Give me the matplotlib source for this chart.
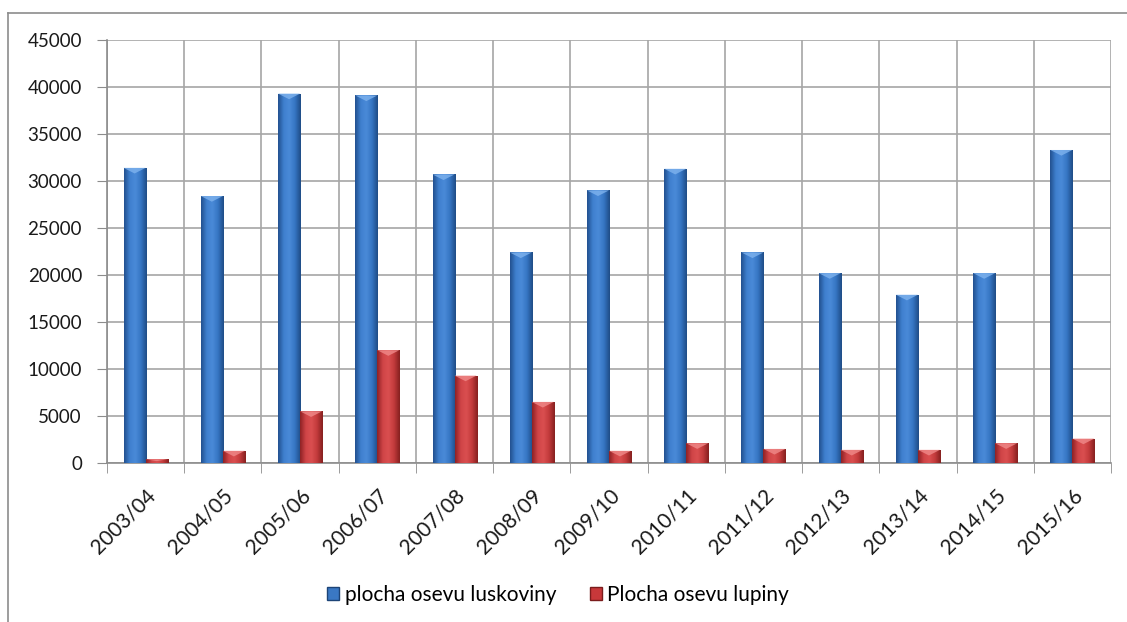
import matplotlib.pyplot as plt
import matplotlib.patches as mpatches
import numpy as np
from matplotlib.colors import LinearSegmentedColormap

seasons = ["2003/04", "2004/05", "2005/06", "2006/07", "2007/08", "2008/09", "2009/10",
           "2010/11", "2011/12", "2012/13", "2013/14", "2014/15", "2015/16"]
luskoviny = [31400, 28400, 39300, 39100, 30700, 22400, 29000, 31300, 22400, 20200, 17900, 20200, 33300]
lupiny = [400, 1300, 5500, 12000, 9300, 6500, 1300, 2100, 1500, 1400, 1400, 2100, 2600]
series_names = ["plocha osevu luskoviny", "Plocha osevu lupiny"]
yticks = list(range(0, 45001, 5000))

BLUE = "#3a78c4"
RED = "#c8383a"
plt.rcParams["font.family"] = ["Lato", "DejaVu Sans"]

blue_cmap = LinearSegmentedColormap.from_list("b", ["#22508f", "#3f80cf", "#4a8ad8", "#3575c2", "#1f4c86"])
red_cmap = LinearSegmentedColormap.from_list("r", ["#8e2224", "#d04447", "#da4f50", "#c23a3b", "#85201f"])

fig = plt.figure(figsize=(11.27, 6.22), dpi=100)
# outer chart frame
fig.add_artist(plt.Line2D([8 / 1127, 1.0], [1 - 13 / 622] * 2, color="#8c8c8c", lw=1.2))
fig.add_artist(plt.Line2D([8 / 1127] * 2, [0, 1 - 13 / 622], color="#8c8c8c", lw=1.2))

ax = fig.add_axes([107 / 1127, 1 - 463 / 622, 1004 / 1127, 423 / 622])
x = np.arange(len(seasons))
w = 0.285
b1 = ax.bar(x - w / 2, luskoviny, w, color=BLUE, zorder=3, edgecolor="#1d4477", lw=0.6)
b2 = ax.bar(x + w / 2, lupiny, w, color=RED, zorder=3, edgecolor="#7a1c1c", lw=0.6)

grad = np.linspace(0, 1, 64).reshape(1, -1)
for bars, cmap, top in ((b1, blue_cmap, "#7fb3ee"), (b2, red_cmap, "#f08a8a")):
    for r in bars:
        x0, y0, bw, bh = r.get_x(), r.get_y(), r.get_width(), r.get_height()
        im = ax.imshow(grad, cmap=cmap, aspect="auto", extent=(x0, x0 + bw, y0, y0 + bh),
                       zorder=3.5, interpolation="bicubic")
        im.set_clip_path(r)
        cap = min(600, bh * 0.5)
        tri = mpatches.Polygon([(x0, y0 + bh), (x0 + bw, y0 + bh), (x0 + bw / 2, y0 + bh - cap)],
                               closed=True, color=top, alpha=0.8, zorder=4, lw=0)
        ax.add_patch(tri)

ax.set_xlim(-0.5, len(seasons) - 0.5)
ax.set_ylim(0, 45000)
ax.set_yticks(yticks)
ax.set_yticklabels([str(v) for v in yticks], fontsize=13.5, color="#1a1a1a")
ax.set_xticks(x)
ax.set_xticklabels(seasons, rotation=45, ha="right", rotation_mode="anchor", fontsize=15, color="#1a1a1a")
ax.tick_params(axis="x", length=0, pad=16)
ax.tick_params(axis="y", length=7, color="#8c8c8c", pad=11)

ax.set_xticks(np.arange(-0.5, len(seasons)), minor=True)
ax.tick_params(axis="x", which="minor", length=7, color="#8c8c8c")
ax.grid(True, axis="y", color="#a6a6a6", lw=1.2, zorder=0)
ax.grid(True, axis="x", which="minor", color="#a6a6a6", lw=1.2, zorder=0)
ax.grid(False, axis="x", which="major")
for s in ["top", "right"]:
    ax.spines[s].set_visible(False)
ax.spines["left"].set_color("#8c8c8c")
ax.spines["bottom"].set_color("#8c8c8c")
ax.spines["left"].set_linewidth(1.2)
ax.spines["bottom"].set_linewidth(1.2)

handles = [mpatches.Patch(facecolor=BLUE, edgecolor="#1d4477"),
           mpatches.Patch(facecolor=RED, edgecolor="#7a1c1c")]
fig.legend(handles, series_names, loc="center", bbox_to_anchor=(558 / 1127, 1 - 595 / 622),
           ncol=2, frameon=False, fontsize=15, handlelength=0.6, handleheight=0.6,
           handletextpad=0.25, columnspacing=1.6)

fig.savefig("out.png", dpi=100)
